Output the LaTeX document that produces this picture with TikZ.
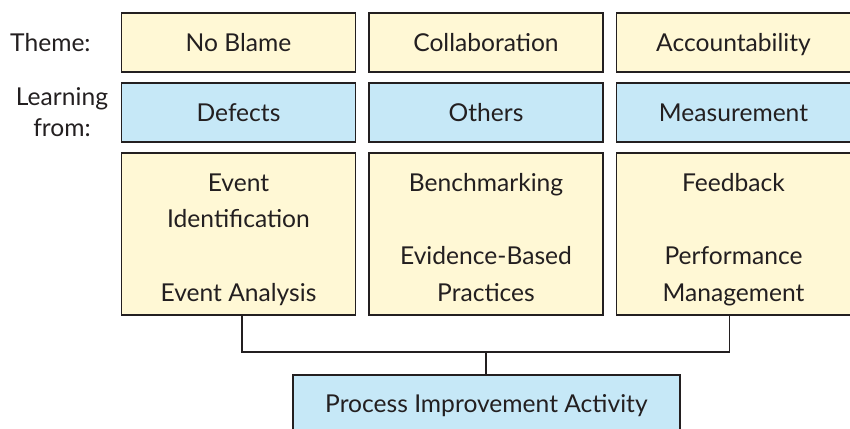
\documentclass[tikz,border=0pt]{standalone}
\usepackage{fontspec}
\setmainfont{Lato}
\usetikzlibrary{positioning, calc}

\definecolor{cream}{HTML}{FFF8D5}
\definecolor{skyblue}{HTML}{C6E8F7}
\definecolor{ink}{HTML}{231F20}

\begin{document}
\begin{tikzpicture}[
    % 定义样式
    basic/.style={draw=ink, line width=1.4pt, text=ink, minimum width=5.85cm, inner sep=0pt, align=center, font=\fontsize{17.5}{26}\selectfont},
    theme/.style={basic, fill=cream, minimum height=1.475cm, text height=0.95cm, text depth=0.525cm},
    source/.style={basic, fill=skyblue, minimum height=1.475cm, text height=0.95cm, text depth=0.525cm},
    method/.style={basic, fill=cream, minimum height=4.05cm, text height=3.7cm, text depth=0.35cm},
    result/.style={basic, fill=skyblue, minimum width=9.675cm, minimum height=1.4cm, text height=0.925cm, text depth=0.475cm},
    rowlabel/.style={text=ink, align=center, font=\fontsize{17.5}{22}\selectfont},
    link/.style={draw=ink, line width=1.4pt}
]
\useasboundingbox (0,0) rectangle (21.25,-10.7);

% --- 配置参数 ---
\def\colone{5.9625} % 第一列中心
\def\colgap{6.1875} % 列间距

% 1. 主题行
\foreach \t [count=\i] in {No Blame, Collaboration, Accountability}
    \node[theme] (T-\i) at ({\colone+(\i-1)*\colgap}, -1.0625) {\t};

% 2. 学习来源行
\foreach \s [count=\i] in {Defects, Others, Measurement}
    \node[source] (S-\i) at ({\colone+(\i-1)*\colgap}, -2.8125) {\s};

% 3. 具体方法 (每格四行, 空行留白)
\foreach \m [count=\i] in {{Event\\Identification\\[26pt]Event Analysis},
                           {Benchmarking\\[26pt]Evidence-Based\\Practices},
                           {Feedback\\[26pt]Performance\\Management}}
    \node[method] (M-\i) at ({\colone+(\i-1)*\colgap}, -5.85) {\m};

% 4. 结果
\node[result] (P) at (12.16, -10.075) {Process Improvement Activity};

% --- 行标签 ---
\node[rowlabel] (theme-label) at (1.26, -1.0625) {Theme:};
\node[rowlabel] (learn-label) at (1.55, -2.8125) {Learning\\from:};

% --- 连接线 ---
\coordinate (bus) at (12.16, -8.8);
\draw[link] ([xshift=0.09cm]M-1.south) |- (bus) -| ([xshift=-0.1cm]M-3.south);
\draw[link] (bus) -- (P);

\end{tikzpicture}
\end{document}
